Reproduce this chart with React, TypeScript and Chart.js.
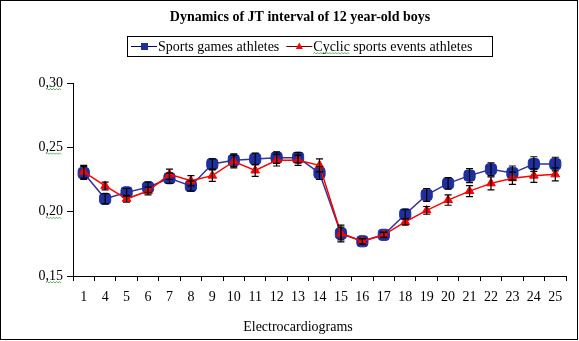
import React, { useEffect, useRef } from 'react';
import { Chart, registerables } from 'chart.js';

Chart.register(...registerables);

const chartTitle = 'Dynamics of JT interval of 12 year-old boys';
const xAxisTitle = 'Electrocardiograms';
const seriesNames = ['Sports games athletes', 'Cyclic sports events athletes'];

const categories = ['1', '4', '5', '6', '7', '8', '9', '10', '11', '12', '13', '14', '15', '16', '17', '18', '19', '20', '21', '22', '23', '24', '25'];

const sportsGames = [0.230, 0.210, 0.215, 0.219, 0.226, 0.220, 0.237, 0.240, 0.241, 0.242, 0.242, 0.230, 0.183, 0.177, 0.182, 0.198, 0.213, 0.222, 0.228, 0.233, 0.230, 0.237, 0.237];
const sportsGamesErr = [0.005, 0.004, 0.003, 0.004, 0.004, 0.004, 0.004, 0.005, 0.0045, 0.0045, 0.004, 0.005, 0.005, 0.002, 0.002, 0.0035, 0.005, 0.0045, 0.0055, 0.005, 0.0055, 0.0057, 0.0053];

const cyclicSports = [0.231, 0.220, 0.210, 0.216, 0.229, 0.224, 0.228, 0.239, 0.232, 0.240, 0.240, 0.236, 0.183, 0.177, 0.182, 0.192, 0.201, 0.209, 0.216, 0.222, 0.226, 0.228, 0.229];
const cyclicSportsErr = [0.005, 0.003, 0.0027, 0.003, 0.004, 0.004, 0.0045, 0.005, 0.0045, 0.0045, 0.004, 0.005, 0.0065, 0.002, 0.002, 0.0025, 0.003, 0.004, 0.0043, 0.005, 0.0048, 0.0052, 0.005];

const yTicks = [0.15, 0.2, 0.25, 0.3];

const FONT = '"Liberation Serif", "Times New Roman", serif';
const BLUE_LINE = '#333399';
const BLUE_MARK = '#1f2f9c';
const RED = '#ff0000';
const SQUIGGLE = '#3a9a3a';

const errors = [sportsGamesErr, cyclicSportsErr];

function squiggle(ctx: any, x0: number, x1: number, y: number) {
  ctx.save();
  ctx.strokeStyle = SQUIGGLE;
  ctx.lineWidth = 0.8;
  ctx.beginPath();
  let up = true;
  ctx.moveTo(x0, y);
  for (let x = x0 + 1.5; x <= x1; x += 1.5) {
    ctx.lineTo(x, up ? y - 1 : y + 0.5);
    up = !up;
  }
  ctx.stroke();
  ctx.restore();
}

const errorBarPlugin = {
  id: 'errorBars',
  afterDatasetsDraw(chart: any) {
    const ctx = chart.ctx;
    const yScale = chart.scales.y;
    ctx.save();
    ctx.strokeStyle = '#000';
    ctx.lineWidth = 1.2;
    chart.data.datasets.forEach((ds: any, di: number) => {
      const meta = chart.getDatasetMeta(di);
      meta.data.forEach((pt: any, i: number) => {
        const v = ds.data[i];
        const e = errors[di][i];
        const x = pt.x;
        const yTop = yScale.getPixelForValue(v + e);
        const yBot = yScale.getPixelForValue(v - e);
        ctx.beginPath();
        ctx.moveTo(x, yTop);
        ctx.lineTo(x, yBot);
        ctx.moveTo(x - 3.5, yTop);
        ctx.lineTo(x + 3.5, yTop);
        ctx.moveTo(x - 3.5, yBot);
        ctx.lineTo(x + 3.5, yBot);
        ctx.stroke();
      });
    });
    ctx.restore();
  },
};

const decorPlugin = {
  id: 'decor',
  beforeDraw(chart: any) {
    const ctx = chart.ctx;
    ctx.save();
    ctx.fillStyle = '#fff';
    ctx.fillRect(0, 0, chart.width, chart.height);
    ctx.restore();
  },
  afterDraw(chart: any) {
    const ctx = chart.ctx;
    ctx.save();
    // outer frame
    ctx.strokeStyle = '#000';
    ctx.lineWidth = 1;
    ctx.strokeRect(0.5, 0.5, chart.width - 2, chart.height - 2);
    // title
    ctx.fillStyle = '#000';
    ctx.font = 'bold 14px ' + FONT;
    ctx.textAlign = 'center';
    ctx.textBaseline = 'middle';
    ctx.fillText(chartTitle, 300, 17);
    // x axis title
    ctx.font = '14px ' + FONT;
    ctx.fillText(xAxisTitle, 298, 327);
    // y tick label squiggles (spell-check marks in the original)
    const yScale = chart.scales.y;
    yTicks.forEach((v) => {
      const py = yScale.getPixelForValue(v);
      squiggle(ctx, 46, 62, py + 6.5);
    });
    // legend
    ctx.strokeStyle = '#000';
    ctx.strokeRect(127.5, 36.5, 365, 20);
    ctx.font = '14px ' + FONT;
    ctx.textAlign = 'left';
    let x = 131;
    const ly = 46.5;
    chart.data.datasets.forEach((ds: any, i: number) => {
      const lineLen = 26;
      ctx.strokeStyle = i === 0 ? '#000066' : '#660000';
      ctx.lineWidth = 1;
      ctx.beginPath();
      ctx.moveTo(x, ly);
      ctx.lineTo(x + lineLen, ly);
      ctx.stroke();
      const cx = x + lineLen / 2;
      ctx.fillStyle = ds.pointBackgroundColor;
      if (i === 0) {
        ctx.fillRect(cx - 3, ly - 3.5, 7, 7);
      } else {
        ctx.beginPath();
        ctx.moveTo(cx, ly - 4);
        ctx.lineTo(cx + 3.5, ly + 2.5);
        ctx.lineTo(cx - 3.5, ly + 2.5);
        ctx.closePath();
        ctx.fill();
      }
      ctx.fillStyle = '#000';
      const tx = x + lineLen + 1;
      ctx.fillText(ds.label, tx, ly + 0.5);
      if (i === 1) {
        squiggle(ctx, tx, tx + ctx.measureText('Cyclic').width, ly + 7);
      }
      x = tx + ctx.measureText(ds.label).width + 7;
    });
    ctx.restore();
  },
};

export default function App() {
  const ref = useRef<HTMLCanvasElement | null>(null);

  useEffect(() => {
    if (!ref.current) return;
    const chart = new Chart(ref.current, {
      type: 'line',
      data: {
        labels: categories,
        datasets: [
          {
            label: seriesNames[0],
            data: sportsGames,
            borderColor: BLUE_LINE,
            backgroundColor: BLUE_MARK,
            pointBackgroundColor: BLUE_MARK,
            pointBorderColor: BLUE_MARK,
            pointStyle: 'rectRounded',
            pointRadius: 6.5,
            pointBorderWidth: 1,
            borderWidth: 1.5,
            tension: 0,
            order: 1,
          },
          {
            label: seriesNames[1],
            data: cyclicSports,
            borderColor: RED,
            backgroundColor: RED,
            pointBackgroundColor: RED,
            pointBorderColor: RED,
            pointStyle: 'triangle',
            pointRadius: 5,
            pointBorderWidth: 1,
            borderWidth: 1.5,
            tension: 0,
            order: 0,
          },
        ],
      },
      options: {
        responsive: false,
        animation: false,
        devicePixelRatio: 1,
        layout: { padding: { top: 83, right: 13, left: 0, bottom: 0 } },
        plugins: {
          legend: { display: false },
          title: { display: false },
          tooltip: { enabled: false },
        },
        scales: {
          x: {
            type: 'category',
            offset: true,
            grid: {
              display: true,
              drawOnChartArea: false,
              drawTicks: true,
              tickLength: 5,
              tickColor: '#000',
              offset: true,
            },
            border: { display: true, color: '#000', width: 1 },
            ticks: {
              color: '#000',
              font: { family: FONT, size: 14 },
              padding: 8,
              maxRotation: 0,
              autoSkip: false,
            },
            title: { display: false },
            afterFit: (s: any) => {
              s.height = 65;
            },
          },
          y: {
            min: 0.15,
            max: 0.3,
            afterBuildTicks: (s: any) => {
              s.ticks = yTicks.map((v) => ({ value: v }));
            },
            grid: {
              display: true,
              drawOnChartArea: false,
              drawTicks: true,
              tickLength: 6,
              tickColor: '#000',
            },
            border: { display: true, color: '#000', width: 1 },
            ticks: {
              color: '#000',
              font: { family: FONT, size: 14 },
              padding: 4,
              callback: (v: any) => Number(v).toFixed(2).replace('.', ','),
            },
            afterFit: (s: any) => {
              s.width = 73;
            },
          },
        },
      },
      plugins: [errorBarPlugin, decorPlugin],
    });
    return () => chart.destroy();
  }, []);

  return (
    <div style={{ position: 'absolute', left: 0, top: 0, width: 579, height: 341 }}>
      <canvas ref={ref} width={579} height={341} style={{ display: 'block', width: 579, height: 341 }} />
    </div>
  );
}
